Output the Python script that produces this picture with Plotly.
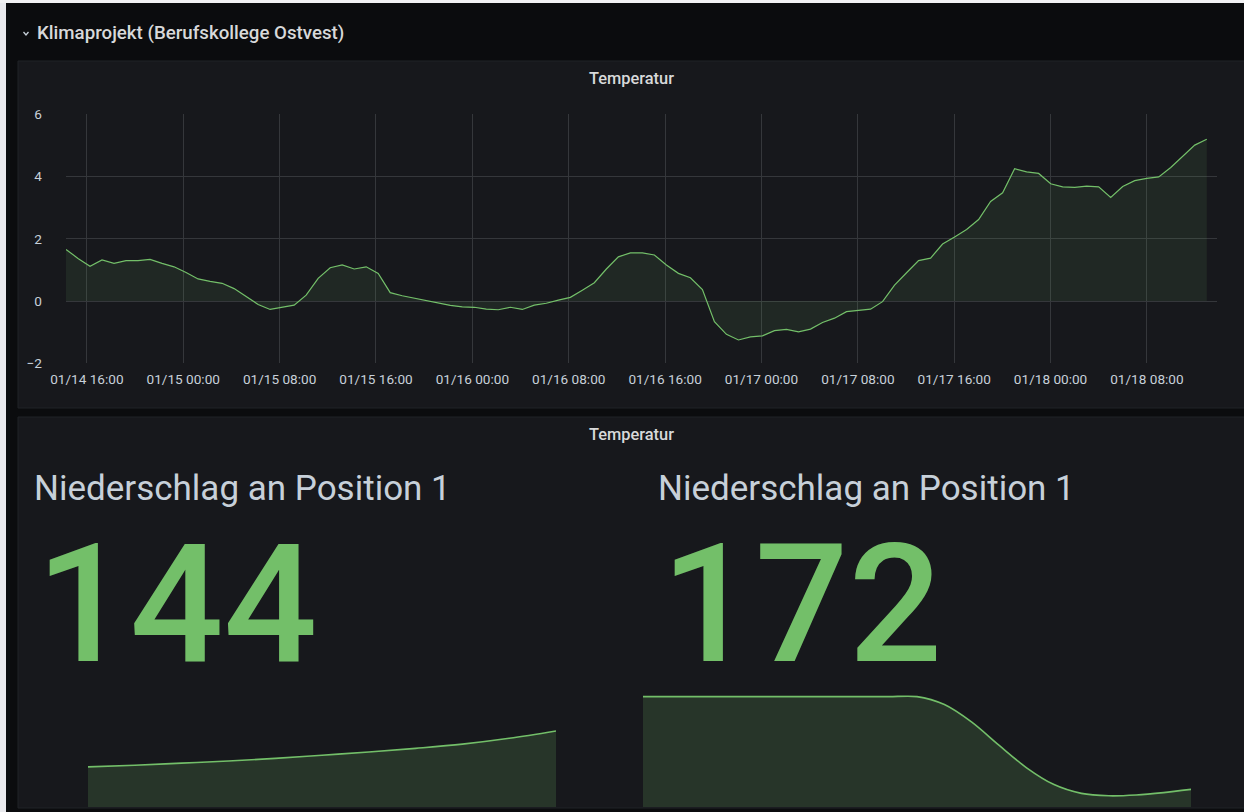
import pandas as pd
import plotly.graph_objects as go

W, H = 1244, 812

# ---------------- data ----------------
dashboard_title = "Klimaprojekt (Berufskollege Ostvest)"
panel_title = "Temperatur"
stat_title = "Niederschlag an Position 1"

temp_start = "2020-01-14 14:16"
temp_end = "2020-01-18 12:58"
temperature = [
    1.66, 1.37, 1.12, 1.32, 1.21, 1.30, 1.30, 1.34, 1.21, 1.10,
    0.92, 0.71, 0.63, 0.57, 0.40, 0.14, -0.11, -0.27, -0.20, -0.13,
    0.19, 0.73, 1.07, 1.16, 1.03, 1.10, 0.89, 0.27, 0.17, 0.09,
    0.00, -0.07, -0.14, -0.19, -0.20, -0.26, -0.28, -0.20, -0.27, -0.13,
    -0.07, 0.03, 0.12, 0.35, 0.59, 1.03, 1.42, 1.55, 1.55, 1.48,
    1.16, 0.89, 0.75, 0.37, -0.66, -1.07, -1.25, -1.15, -1.12, -0.95,
    -0.91, -0.99, -0.90, -0.69, -0.55, -0.34, -0.29, -0.26, -0.02, 0.51,
    0.91, 1.30, 1.38, 1.83, 2.06, 2.30, 2.62, 3.20, 3.48, 4.25,
    4.15, 4.10, 3.77, 3.67, 3.65, 3.69, 3.67, 3.33, 3.68, 3.87,
    3.94, 3.99, 4.29, 4.64, 5.01, 5.20,
]
x_range = ["2020-01-14 14:16", "2020-01-18 13:49"]
x_tick0 = "2020-01-14 16:00"
y_ticks = [-2, 0, 2, 4, 6]

stat_values = ["144", "172"]
spark_left = [76, 79, 83, 87, 92, 98, 104, 111, 119, 130, 144]
spark_right = [288, 288, 288, 288, 288, 288, 288, 288, 288, 288, 288,
               278, 256, 227, 199, 178, 167, 164, 165, 168, 172]
spark_left_range = [0, 212]
spark_right_range = [150, 290]

# ---------------- styling helpers ----------------
GREEN = "#73bf69"
TEXT = "#c7d0d9"
PANEL = "#17181c"
BG = "#0b0c0e"
GRID = "#35373b"
FONT = "Roboto, 'Open Sans', sans-serif"


def X(px):
    return px / W


def Y(py):
    return 1 - py / H


times = pd.date_range(temp_start, temp_end, periods=len(temperature))

fig = go.Figure()
fig.add_trace(go.Scatter(
    x=times, y=temperature, mode="lines",
    line=dict(color=GREEN, width=1.2),
    fill="tozeroy", fillcolor="rgba(115,191,105,0.10)",
    hoverinfo="skip", xaxis="x", yaxis="y",
))
fig.add_trace(go.Scatter(
    x=list(range(len(spark_left))), y=spark_left, mode="lines",
    line=dict(color=GREEN, width=1.6, shape="spline"),
    fill="tozeroy", fillcolor="rgba(115,191,105,0.18)",
    hoverinfo="skip", xaxis="x2", yaxis="y2",
))
fig.add_trace(go.Scatter(
    x=list(range(len(spark_right))), y=spark_right, mode="lines",
    line=dict(color=GREEN, width=1.6, shape="spline", smoothing=0.8),
    fill="tozeroy", fillcolor="rgba(115,191,105,0.18)",
    hoverinfo="skip", xaxis="x3", yaxis="y3",
))

shapes = [
    # page strips (light browser background around the dashboard)
    dict(type="rect", xref="paper", yref="paper", x0=0, x1=X(6), y0=0, y1=1,
         fillcolor="#e9eaee", line=dict(width=0), layer="below"),
    dict(type="rect", xref="paper", yref="paper", x0=0, x1=1, y0=Y(3), y1=1,
         fillcolor="#f2f2f4", line=dict(width=0), layer="below"),
    # panels
    dict(type="rect", xref="paper", yref="paper", x0=X(18), x1=X(1260), y0=Y(408), y1=Y(61),
         fillcolor=PANEL, line=dict(color="#202226", width=1), layer="below"),
    dict(type="rect", xref="paper", yref="paper", x0=X(18), x1=X(1260), y0=Y(808), y1=Y(417),
         fillcolor=PANEL, line=dict(color="#202226", width=1), layer="below"),
    # collapse chevron
    dict(type="path", xref="paper", yref="paper",
         path=f"M {X(23.5)},{Y(32)} L {X(26)},{Y(35)} L {X(28.5)},{Y(32)}",
         line=dict(color=TEXT, width=1.3), layer="above"),
]

annotations = [
    dict(text=dashboard_title, x=X(35), y=Y(33.5), xanchor="left", yanchor="middle",
         font=dict(family=FONT, size=18.7, color="#d8d9da", weight=500)),
    dict(text=panel_title, x=X(631), y=Y(78), xanchor="center", yanchor="middle",
         font=dict(family=FONT, size=16.4, color="#d8d9da", weight=500)),
    dict(text=panel_title, x=X(631), y=Y(434.5), xanchor="center", yanchor="middle",
         font=dict(family=FONT, size=16.4, color="#d8d9da", weight=500)),
    dict(text=stat_title, x=X(31.5), y=Y(488), xanchor="left", yanchor="middle",
         font=dict(family=FONT, size=35, color=TEXT)),
    dict(text=stat_title, x=X(655.5), y=Y(488), xanchor="left", yanchor="middle",
         font=dict(family=FONT, size=35, color=TEXT)),
    dict(text=stat_values[0], x=X(33.5), y=Y(604.5), xanchor="left", yanchor="middle",
         font=dict(family=FONT, size=165, color=GREEN, weight=500)),
    dict(text=stat_values[1], x=X(659), y=Y(604.5), xanchor="left", yanchor="middle",
         font=dict(family=FONT, size=165, color=GREEN, weight=500)),
]
for a in annotations:
    a.update(xref="paper", yref="paper", showarrow=False)

tickfont = dict(family=FONT, size=13.6, color=TEXT)

fig.update_layout(
    width=W, height=H, autosize=False, margin=dict(l=0, r=0, t=0, b=0, pad=0),
    paper_bgcolor=BG, plot_bgcolor="rgba(0,0,0,0)",
    showlegend=False, hovermode=False,
    shapes=shapes, annotations=annotations,
    xaxis=dict(domain=[X(66), X(1217)], anchor="y", type="date", range=x_range,
               tick0=x_tick0, dtick=8 * 3600 * 1000, tickformat="%m/%d %H:%M",
               showgrid=True, gridcolor=GRID, gridwidth=1, zeroline=False,
               showline=False, ticks="", tickfont=tickfont, ticklabelstandoff=6,
               automargin=False, fixedrange=True),
    yaxis=dict(domain=[Y(363.3), Y(114.3)], anchor="x", range=[-2, 6],
               tickvals=y_ticks, showgrid=True, gridcolor=GRID, gridwidth=1,
               zeroline=False, showline=False, ticks="", tickfont=tickfont,
               ticklabelstandoff=23, automargin=False, fixedrange=True),
    xaxis2=dict(domain=[X(88), X(556)], anchor="y2", range=[0, len(spark_left) - 1],
                visible=False, automargin=False, fixedrange=True),
    yaxis2=dict(domain=[Y(807), Y(695)], anchor="x2", range=spark_left_range,
                visible=False, automargin=False, fixedrange=True),
    xaxis3=dict(domain=[X(643), X(1191)], anchor="y3", range=[0, len(spark_right) - 1],
                visible=False, automargin=False, fixedrange=True),
    yaxis3=dict(domain=[Y(807), Y(695)], anchor="x3", range=spark_right_range,
                visible=False, automargin=False, fixedrange=True),
)

page_fix = (
    "document.documentElement.style.margin='0';"
    "document.documentElement.style.overflow='hidden';"
    "document.body.style.margin='0';"
    "document.body.style.padding='0';"
    "document.body.style.overflow='hidden';"
    "document.body.style.background='#0b0c0e';"
    "var gd=document.getElementById('{plot_id}');"
    "gd.style.position='fixed';gd.style.left='0px';gd.style.top='0px';"
)

fig.write_html(
    "out.html",
    config={"displayModeBar": False, "staticPlot": True, "responsive": False},
    post_script=page_fix,
)
